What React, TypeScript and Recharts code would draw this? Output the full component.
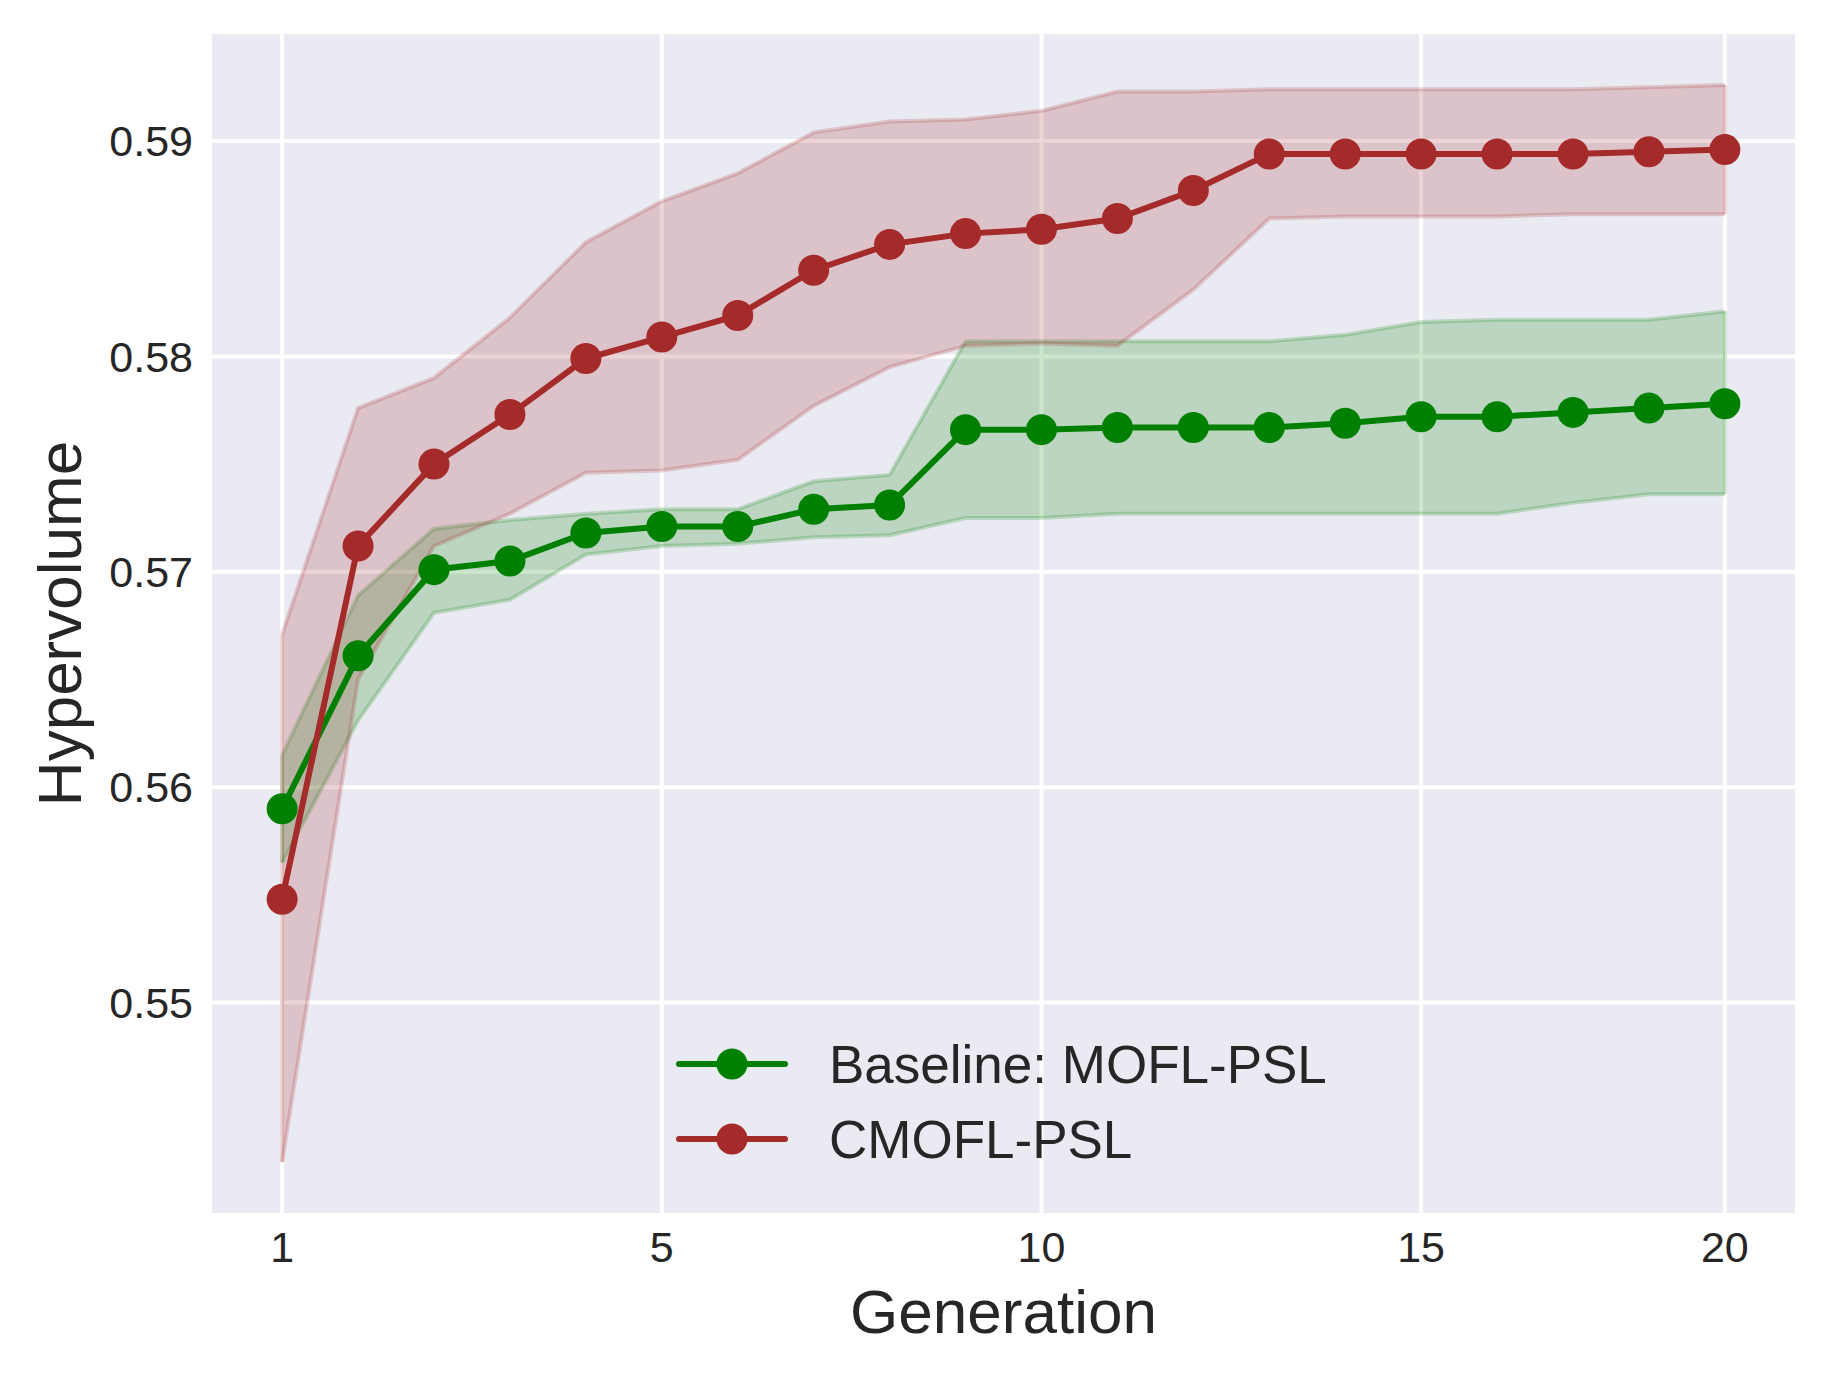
import React from 'react';
import {
  ComposedChart,
  Line,
  Area,
  XAxis,
  YAxis,
  CartesianGrid,
  Legend,
  ReferenceLine,
} from 'recharts';

// ---------- data ----------
const generationIndex = [0, 1, 2, 3, 4, 5, 6, 7, 8, 9, 10, 11, 12, 13, 14, 15, 16, 17, 18, 19];
const xTicks = [0, 5, 10, 15, 19];
const xTickLabels = ['1', '5', '10', '15', '20'];
const yTicks = [0.55, 0.56, 0.57, 0.58, 0.59];

const baselineMean = [0.5590, 0.5661, 0.5701, 0.5705, 0.5718, 0.5721, 0.5721, 0.5729, 0.5731, 0.5766, 0.5766, 0.5767, 0.5767, 0.5767, 0.5769, 0.5772, 0.5772, 0.5774, 0.5776, 0.5778];
const baselineUpper = [0.5615, 0.5689, 0.5720, 0.5724, 0.5727, 0.5729, 0.5729, 0.5742, 0.5745, 0.5807, 0.5807, 0.5807, 0.5807, 0.5807, 0.5810, 0.5816, 0.5817, 0.5817, 0.5817, 0.5821];
const baselineLower = [0.5565, 0.5631, 0.5681, 0.5687, 0.5708, 0.5712, 0.5713, 0.5716, 0.5717, 0.5725, 0.5725, 0.5727, 0.5727, 0.5727, 0.5727, 0.5727, 0.5727, 0.5732, 0.5736, 0.5736];

const cmoflMean = [0.5548, 0.5712, 0.5750, 0.5773, 0.5799, 0.5809, 0.5819, 0.5840, 0.5852, 0.5857, 0.5859, 0.5864, 0.5877, 0.5894, 0.5894, 0.5894, 0.5894, 0.5894, 0.5895, 0.5896];
const cmoflUpper = [0.5671, 0.5776, 0.5790, 0.5818, 0.5853, 0.5872, 0.5885, 0.5904, 0.5909, 0.5910, 0.5914, 0.5923, 0.5923, 0.5924, 0.5924, 0.5924, 0.5924, 0.5924, 0.5925, 0.5926];
const cmoflLower = [0.5426, 0.5650, 0.5712, 0.5727, 0.5746, 0.5747, 0.5752, 0.5777, 0.5795, 0.5805, 0.5806, 0.5805, 0.5831, 0.5864, 0.5865, 0.5865, 0.5865, 0.5866, 0.5866, 0.5866];

const seriesNames = ['Baseline: MOFL-PSL', 'CMOFL-PSL'];

// ---------- styles ----------
const GREEN = '#008000';
const BROWN = '#A52A2A';
const FONT = '"Liberation Sans", Arial, Helvetica, sans-serif';
const TEXT = '#262626';
const seriesColors = [GREEN, BROWN];

const data = generationIndex.map((g, i) => ({
  g,
  bMean: baselineMean[i],
  bBand: [baselineLower[i], baselineUpper[i]],
  cMean: cmoflMean[i],
  cBand: [cmoflLower[i], cmoflUpper[i]],
}));

const first = 0;
const last = generationIndex.length - 1;

const XLabel = (props: any) => {
  const vb = props.viewBox || {};
  return (
    <text
      x={vb.x + vb.width / 2}
      y={vb.y + 118}
      textAnchor="middle"
      fontFamily={FONT}
      fontSize={62}
      fill={TEXT}
    >
      Generation
    </text>
  );
};

const YLabel = (props: any) => {
  const vb = props.viewBox || {};
  const cx = vb.x + 81;
  const cy = vb.y + vb.height / 2;
  return (
    <text
      x={cx}
      y={cy}
      transform={`rotate(-90, ${cx}, ${cy})`}
      textAnchor="middle"
      fontFamily={FONT}
      fontSize={62}
      fill={TEXT}
    >
      Hypervolume
    </text>
  );
};

const LegendBox = (props: any) => {
  const payload = (props.payload || []).filter((p: any) => p.type !== 'none');
  const items =
    payload.length > 0
      ? payload.map((p: any) => ({ value: p.value, color: p.color }))
      : seriesNames.map((n, i) => ({ value: n, color: seriesColors[i] }));
  return (
    <svg width={1828} height={1377} style={{ position: 'absolute', left: 0, top: 0 }}>
      {items.map((it: any, i: number) => {
        const cy = 1064 + i * 75;
        return (
          <g key={it.value}>
            <line x1={679} x2={785} y1={cy} y2={cy} stroke={it.color} strokeWidth={6} strokeLinecap="round" />
            <circle cx={732} cy={cy} r={15.5} fill={it.color} />
            <text x={829} y={cy + 19} fontFamily={FONT} fontSize={53} fill={TEXT}>
              {it.value}
            </text>
          </g>
        );
      })}
    </svg>
  );
};

const tickStyle = { fontSize: 43, fill: TEXT, fontFamily: FONT };

export default function App() {
  return (
    <div style={{ position: 'absolute', left: 0, top: 0, width: 1828, height: 1377, background: '#ffffff' }}>
      <ComposedChart
        width={1828}
        height={1377}
        data={data}
        margin={{ top: 32, right: 31, bottom: 0, left: 0 }}
      >
        <CartesianGrid fill="#EAEAF2" stroke="#FFFFFF" strokeWidth={4} />
        <XAxis
          type="number"
          dataKey="g"
          domain={[-0.95, 19.95]}
          ticks={xTicks}
          interval={0}
          tickFormatter={(v: number) => xTickLabels[xTicks.indexOf(v)]}
          axisLine={false}
          tickLine={false}
          tickSize={0}
          tickMargin={16}
          height={162}
          tick={tickStyle}
          allowDataOverflow
          label={{ content: XLabel }}
        />
        <YAxis
          type="number"
          domain={[0.54014, 0.59506]}
          ticks={yTicks}
          interval={0}
          tickFormatter={(v: number) => v.toFixed(2)}
          axisLine={false}
          tickLine={false}
          tickSize={0}
          tickMargin={17}
          width={210}
          tick={tickStyle}
          allowDataOverflow
          label={{ content: YLabel }}
        />
        <Area
          type="linear"
          dataKey="bBand"
          fill={GREEN}
          fillOpacity={0.2}
          stroke={GREEN}
          strokeOpacity={0.2}
          strokeWidth={4}
          dot={false}
          activeDot={false}
          legendType="none"
          isAnimationActive={false}
        />
        <Area
          type="linear"
          dataKey="cBand"
          fill={BROWN}
          fillOpacity={0.2}
          stroke={BROWN}
          strokeOpacity={0.2}
          strokeWidth={4}
          dot={false}
          activeDot={false}
          legendType="none"
          isAnimationActive={false}
        />
        <ReferenceLine
          segment={[{ x: generationIndex[first], y: baselineLower[first] }, { x: generationIndex[first], y: baselineUpper[first] }]}
          stroke={GREEN}
          strokeOpacity={0.2}
          strokeWidth={4}
        />
        <ReferenceLine
          segment={[{ x: generationIndex[last], y: baselineLower[last] }, { x: generationIndex[last], y: baselineUpper[last] }]}
          stroke={GREEN}
          strokeOpacity={0.2}
          strokeWidth={4}
        />
        <ReferenceLine
          segment={[{ x: generationIndex[first], y: cmoflLower[first] }, { x: generationIndex[first], y: cmoflUpper[first] }]}
          stroke={BROWN}
          strokeOpacity={0.2}
          strokeWidth={4}
        />
        <ReferenceLine
          segment={[{ x: generationIndex[last], y: cmoflLower[last] }, { x: generationIndex[last], y: cmoflUpper[last] }]}
          stroke={BROWN}
          strokeOpacity={0.2}
          strokeWidth={4}
        />
        <Line
          type="linear"
          dataKey="bMean"
          name={seriesNames[0]}
          stroke={GREEN}
          strokeWidth={6}
          dot={{ r: 15.5, fill: GREEN, stroke: 'none' }}
          activeDot={false}
          isAnimationActive={false}
        />
        <Line
          type="linear"
          dataKey="cMean"
          name={seriesNames[1]}
          stroke={BROWN}
          strokeWidth={6}
          dot={{ r: 15.5, fill: BROWN, stroke: 'none' }}
          activeDot={false}
          isAnimationActive={false}
        />
        <Legend
          layout="horizontal"
          verticalAlign="middle"
          align="center"
          wrapperStyle={{ left: 0, top: 0, width: 1828, height: 1377, pointerEvents: 'none' }}
          content={(p: any) => <LegendBox {...p} />}
        />
      </ComposedChart>
    </div>
  );
}
